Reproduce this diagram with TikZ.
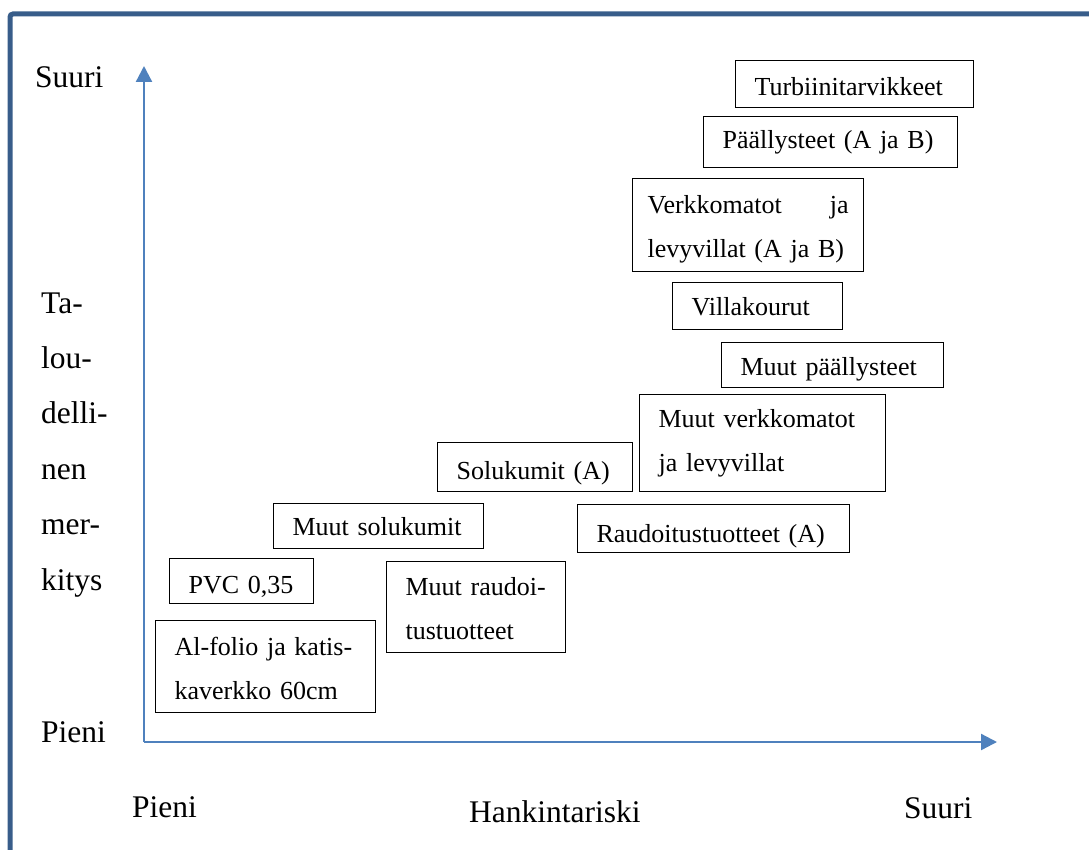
\documentclass[tikz,border=0pt]{standalone}
\usepackage{fontspec}
\setmainfont{Liberation Serif}
\usetikzlibrary{arrows.meta}

\definecolor{framecol}{HTML}{385D8A}
\definecolor{axiscol}{HTML}{4F81BD}
\newcommand\boxfont{\fontsize{26}{44}\selectfont}
\newcommand\axisfont{\fontsize{31.5}{55.4}\selectfont}

\begin{document}
\begin{tikzpicture}[
  x=1pt, y=-1pt,
  box/.style={rectangle, draw, line width=1.2pt, anchor=north west, font=\boxfont,
    inner xsep=19pt, inner ysep=0pt, text height=34pt},
  axislabel/.style={anchor=base west, inner sep=0pt, font=\axisfont},
  axis/.style={-{Triangle[length=16pt, width=16pt]}, line width=2.3pt, draw=axiscol},
]
\useasboundingbox (0,0) rectangle (1089,850);

% === Frame ===
\draw[framecol, line width=5pt, rounded corners=3pt] (10,850) -- (10,14) -- (1089,14);

% === Axes ===
\coordinate (origin) at (144,742);
\coordinate (ytip) at (144,66);
\coordinate (xtip) at (997,742);
\draw[axis] (origin) -- (ytip);
\draw[axis] (origin) -- (xtip);

% === Axis labels ===
\node[axislabel] (ybig) at (35,88) {Suuri};
\node[axislabel, text width=80pt] (ytitle) at (41,313) {Ta-\\lou-\\delli-\\nen\\mer-\\kitys};
\node[axislabel] (ysmall) at (41,742) {Pieni};
\node[axislabel] (xsmall) at (132,817) {Pieni};
\node[axislabel] (xtitle) at (469,822) {Hankintariski};
\node[axislabel] (xbig) at (904,818) {Suuri};

% === Boxes ===
\node[box, text width=200pt, text height=35pt, text depth=12pt] (turb) at (735,60) {Turbiinitarvikkeet};
\node[box, text width=216pt, text height=32pt, text depth=19pt] (paal) at (703,116) {Päällysteet (A ja B)};
\node[box, inner xsep=15pt, text width=201pt, text height=35pt, text depth=58pt] (verkko) at (632,178) {Verkkomatot\hfill ja\\levyvillat (A ja B)};
\node[box, text width=132pt, text height=33pt, text depth=14pt] (villa) at (672,282) {Villakourut};
\node[box, text width=184pt, text height=33pt, text depth=12pt] (muutpaal) at (721,342) {Muut päällysteet};
\node[box, text width=208pt, text height=33pt, text depth=64pt] (muutverkko) at (639,394) {Muut verkkomatot\\ja levyvillat};
\node[box, text width=157pt, text height=37pt, text depth=12pt] (solu) at (437,442) {Solukumit (A)};
\node[box, text width=172pt, text height=32pt, text depth=13pt] (muutsolu) at (273,503) {Muut solukumit};
\node[box, text width=234pt, text height=38pt, text depth=10pt] (raud) at (577,504) {Raudoitustuotteet (A)};
\node[box, text width=106pt, text height=35pt, text depth=10pt] (pvc) at (169,558) {PVC 0,35};
\node[box, text width=141pt, text height=34pt, text depth=57pt] (muutraud) at (386,561) {Muut raudoi-\\tustuotteet};
\node[box, text width=182pt, text height=35pt, text depth=57pt] (alfolio) at (155,620) {Al-folio ja katis-\\kaverkko 60cm};

\end{tikzpicture}
\end{document}
